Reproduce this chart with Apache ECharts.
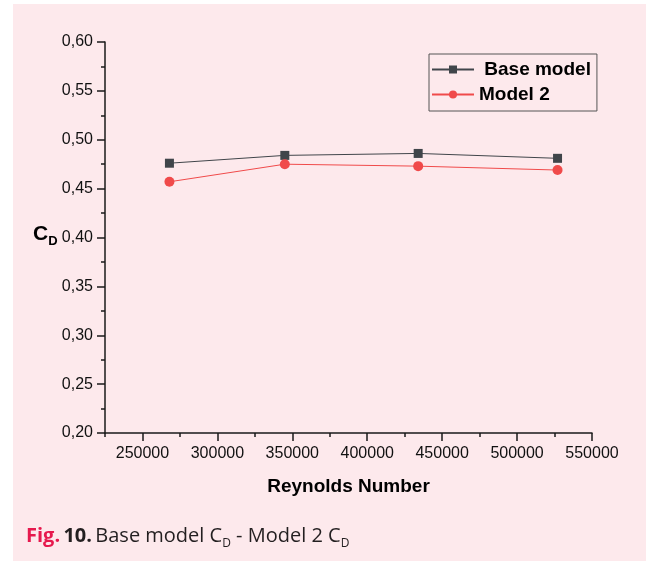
<!DOCTYPE html>
<html style="height: 100%">
<head>
	<meta charset="utf-8">
</head>
<body style="height: 100%; margin: 0; background: #fff">
<div id="container" style="width: 646px; height: 561px; background: linear-gradient(#fde9ec, #fde9ec) 13px 4px / 633px 557px no-repeat, #fff;"></div>
<script type="text/javascript" src="https://cdn.jsdelivr.net/npm/echarts@6/dist/echarts.min.js"></script>
<script type="text/javascript">
    var reynolds = [268000, 345000, 434000, 527000];
    var baseModel = [0.476, 0.484, 0.486, 0.481];
    var model2 = [0.457, 0.475, 0.473, 0.469];
    var xMajorTicks = [250000, 300000, 350000, 400000, 450000, 500000, 550000];
    var xMinorTicks = [225000, 275000, 325000, 375000, 425000, 475000, 525000];

    var dom = document.getElementById("container");
    var myChart = echarts.init(dom);
    var font = 'Liberation Sans';
    var capFont = 'Open Sans';

    function pairs(ys) {
        return reynolds.map(function (x, i) { return [x, ys[i]]; });
    }

    var option = {
        animation: false,
        textStyle: { fontFamily: font },
        grid: { left: 105, right: 54, top: 42, bottom: 128 },
        legend: {
            orient: 'vertical',
            left: 429,
            top: 54,
            padding: [5, 6, 6, 2],
            itemGap: 4,
            itemWidth: 42,
            itemHeight: 10,
            borderColor: '#555',
            borderWidth: 1,
            formatter: function (name) {
                return name === 'Base model' ? ' ' + name : name;
            },
            textStyle: { fontFamily: font, fontWeight: 'bold', fontSize: 19, color: '#000', lineHeight: 21 },
            data: ['Base model', 'Model 2']
        },
        xAxis: [{
            type: 'value',
            min: 225000,
            max: 550000,
            name: 'Reynolds Number',
            nameLocation: 'middle',
            nameGap: 44,
            nameTextStyle: { fontFamily: font, fontWeight: 'bold', fontSize: 19, color: '#000' },
            axisLine: { lineStyle: { color: '#1a1a1a', width: 1.5 } },
            axisTick: { customValues: xMajorTicks, length: 8, lineStyle: { color: '#1a1a1a', width: 1.5 } },
            axisLabel: {
                customValues: xMajorTicks,
                fontFamily: font,
                fontSize: 16,
                color: '#111',
                margin: 13,
                formatter: function (v) { return String(v); }
            },
            splitLine: { show: false }
        }, {
            type: 'value',
            min: 225000,
            max: 550000,
            position: 'bottom',
            axisLine: { show: false },
            axisTick: { customValues: xMinorTicks, length: 4, lineStyle: { color: '#1a1a1a', width: 1.5 } },
            axisLabel: { show: false },
            splitLine: { show: false }
        }],
        yAxis: {
            type: 'value',
            min: 0.2,
            max: 0.6,
            interval: 0.05,
            axisLine: { show: true, lineStyle: { color: '#1a1a1a', width: 1.5 } },
            axisTick: { show: true, length: 8, lineStyle: { color: '#1a1a1a', width: 1.5 } },
            minorTick: { show: true, splitNumber: 2, length: 4, lineStyle: { color: '#1a1a1a', width: 1.5 } },
            axisLabel: {
                fontFamily: font,
                fontSize: 16,
                color: '#111',
                margin: 12,
                formatter: function (v) { return v.toFixed(2).replace('.', ','); }
            },
            splitLine: { show: false }
        },
        graphic: [{
            type: 'text',
            left: 33,
            top: 224,
            style: {
                text: '{c|C}{d|D}',
                rich: {
                    c: { fontFamily: font, fontWeight: 'bold', fontSize: 21, fill: '#000', lineHeight: 24, verticalAlign: 'top' },
                    d: { fontFamily: font, fontWeight: 'bold', fontSize: 13, fill: '#000', lineHeight: 24, verticalAlign: 'top', padding: [11, 0, 0, 0] }
                }
            }
        }, {
            type: 'text',
            left: 26,
            top: 526,
            style: {
                text: '{r|Fig.} {b|10.} {n|Base model C}{s|D}{n| - Model 2 C}{s|D}',
                rich: {
                    r: { fontFamily: capFont, fontWeight: 'bold', fontSize: 20, fill: '#e6194d', lineHeight: 26, verticalAlign: 'top' },
                    b: { fontFamily: capFont, fontWeight: 'bold', fontSize: 20, fill: '#231f20', lineHeight: 26, verticalAlign: 'top' },
                    n: { fontFamily: capFont, fontSize: 20, fill: '#231f20', lineHeight: 26, verticalAlign: 'top' },
                    s: { fontFamily: capFont, fontSize: 12, fill: '#231f20', lineHeight: 26, verticalAlign: 'top', padding: [12, 0, 0, 0] }
                }
            }
        }],
        series: [{
            name: 'Base model',
            type: 'line',
            data: pairs(baseModel),
            symbol: 'rect',
            symbolSize: 9,
            itemStyle: { color: '#40454a' },
            lineStyle: { color: '#40454a', width: 1 }
        }, {
            name: 'Model 2',
            type: 'line',
            data: pairs(model2),
            symbol: 'circle',
            symbolSize: 10,
            itemStyle: { color: '#f04a4a' },
            lineStyle: { color: '#f04a4a', width: 1 }
        }]
    };

    myChart.setOption(option, true);
</script>
</body>
</html>
